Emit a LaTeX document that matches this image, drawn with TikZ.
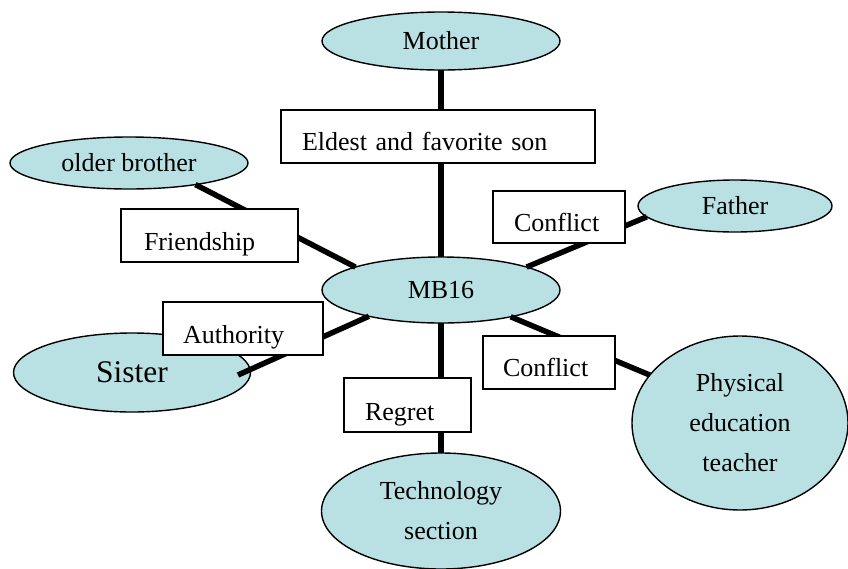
\documentclass[tikz,border=0pt]{standalone}
\usepackage{fontspec}
\setmainfont{Liberation Serif}
\usetikzlibrary{shapes.geometric}
\definecolor{ellblue}{RGB}{185,224,227}
\begin{document}
\begin{tikzpicture}[x=1pt,y=-1pt,
  ell/.style={ellipse, draw=black, fill=ellblue, line width=1.4pt, inner sep=0pt, outer sep=0pt, align=center, font=\fontsize{26}{40}\selectfont},
  lbl/.style={rectangle, draw=black, fill=white, line width=1.4pt, inner ysep=0pt, outer sep=0pt, align=left, font=\fontsize{26}{31}\selectfont},
  link/.style={line width=5.5pt}]
\useasboundingbox (0,0) rectangle (848,568);
% ellipses
\node[ell, minimum width=238pt, minimum height=58pt] (mother) at (441,41) {Mother};
\node[ell, minimum width=238pt, minimum height=52pt] (ob) at (129,163) {older brother};
\node[ell, minimum width=194pt, minimum height=52pt] (father) at (735,206) {Father};
\node[ell, minimum width=238pt, minimum height=66pt] (mb16) at (441,290) {MB16};
\node[ell, minimum width=237pt, minimum height=79pt, font=\fontsize{31.5}{38}\selectfont] (sister) at (132,372.5) {Sister};
\node[ell, minimum width=216pt, minimum height=174pt] (phys) at (740,423) {Physical\\education\\teacher};
\node[ell, minimum width=239pt, minimum height=116pt] (tech) at (441,511) {Technology\\section};
\coordinate (sisend) at (238,375);
% connectors
\draw[link] (mother) -- (mb16);
\draw[link] (ob.-18) -- (mb16.165);
\draw[link] (mb16.15) -- (father.187);
\draw[link] (mb16.-21) -- (phys.152);
\draw[link] (mb16.200) -- (sisend);
\draw[link] (mb16) -- (tech);
% labels
\node[lbl, text width=272pt, inner xsep=21pt, text height=40pt, text depth=13pt] (eldest) at (438,136.5) {Eldest and favorite son};
\node[lbl, text width=90pt, inner xsep=21pt, text height=40.5pt, text depth=11.5pt] (conf1) at (559,217) {Conflict};
\node[lbl, text width=131pt, inner xsep=23pt, text height=41pt, text depth=12pt] (friend) at (209.5,235.5) {Friendship};
\node[lbl, text width=120pt, inner xsep=20pt, text height=41pt, text depth=12pt] (auth) at (243,328.5) {Authority};
\node[lbl, text width=92pt, inner xsep=20pt, text height=40pt, text depth=13pt] (conf2) at (549,362.5) {Conflict};
\node[lbl, text width=85pt, inner xsep=21pt, text height=42pt, text depth=12pt] (regret) at (407.5,405) {Regret};
\end{tikzpicture}
\end{document}
